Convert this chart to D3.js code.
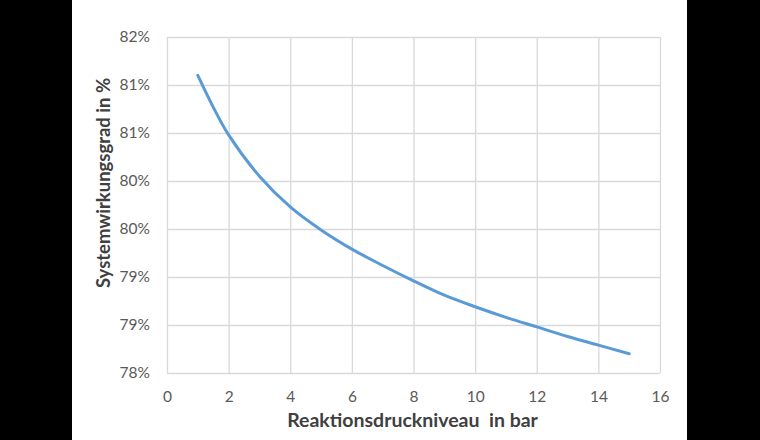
<!DOCTYPE html>
<html><head><meta charset="utf-8">
<script src="https://cdn.jsdelivr.net/npm/d3@7"></script>
<style>html,body{margin:0;padding:0;background:#000;}svg{display:block;}</style>
</head><body>
<script>
const xValues = [1, 1.5, 2, 3, 4, 5, 6, 7, 8, 9, 10, 11, 12, 13, 14, 15];
const yValues = [81.10, 80.77, 80.48, 80.05, 79.73, 79.49, 79.29, 79.12, 78.96, 78.81, 78.69, 78.58, 78.48, 78.38, 78.29, 78.20];
const xTicks = [0, 2, 4, 6, 8, 10, 12, 14, 16];
const yTicks = [78, 78.5, 79, 79.5, 80, 80.5, 81, 81.5];
const xTitle = "Reaktionsdruckniveau\u00a0 in bar";
const yTitle = "Systemwirkungsgrad in %";

const W = 760, H = 440;
const svg = d3.select("body").append("svg").attr("width", W).attr("height", H);
svg.append("rect").attr("x", 0).attr("y", 0).attr("width", W).attr("height", H).attr("fill", "#000");
svg.append("rect").attr("x", 72).attr("y", 0).attr("width", 615).attr("height", H).attr("fill", "#fff");

const m = {l: 167, r: 660, t: 37, b: 373};
const x = d3.scaleLinear().domain([0, 16]).range([m.l, m.r]);
const y = d3.scaleLinear().domain([78, 81.5]).range([m.b, m.t]);
const font = "Lato, 'Open Sans', sans-serif";

// gridlines
const gx = svg.append("g").attr("transform", `translate(0,${m.b})`)
  .call(d3.axisBottom(x).tickValues(xTicks).tickSize(-(m.b - m.t)).tickFormat(d => d));
gx.select(".domain").remove();
gx.selectAll("line").attr("stroke", "#d9d9d9").attr("stroke-width", 1.3);
gx.selectAll("text").attr("fill", "#595959").attr("font-family", font).attr("font-size", 15.5).attr("y", 0).attr("dy", 29);

const gy = svg.append("g").attr("transform", `translate(${m.l},0)`)
  .call(d3.axisLeft(y).tickValues(yTicks).tickSize(-(m.r - m.l)).tickFormat(d => Math.round(d) + "%"));
gy.select(".domain").remove();
gy.selectAll("line").attr("stroke", "#d9d9d9").attr("stroke-width", 1.3);
gy.selectAll("text").attr("fill", "#595959").attr("font-family", font).attr("font-size", 15.5).attr("x", -17);

// line
const pts = xValues.map((v, i) => [v, yValues[i]]);
svg.append("path").datum(pts)
  .attr("d", d3.line().x(d => x(d[0])).y(d => y(d[1])).curve(d3.curveCatmullRom))
  .attr("fill", "none").attr("stroke", "#5b9bd5").attr("stroke-width", 3).attr("stroke-linecap", "round");

// titles
svg.append("text").attr("x", (287 + 538) / 2).attr("y", 427)
  .attr("text-anchor", "middle").attr("font-family", font).attr("font-weight", "bold")
  .attr("font-size", 19.5).attr("fill", "#404040").text(xTitle);
svg.append("text").attr("transform", `translate(110,183) rotate(-90)`)
  .attr("text-anchor", "middle").attr("font-family", font).attr("font-weight", "bold")
  .attr("font-size", 18.5).attr("fill", "#404040").text(yTitle);
</script>
</body></html>
